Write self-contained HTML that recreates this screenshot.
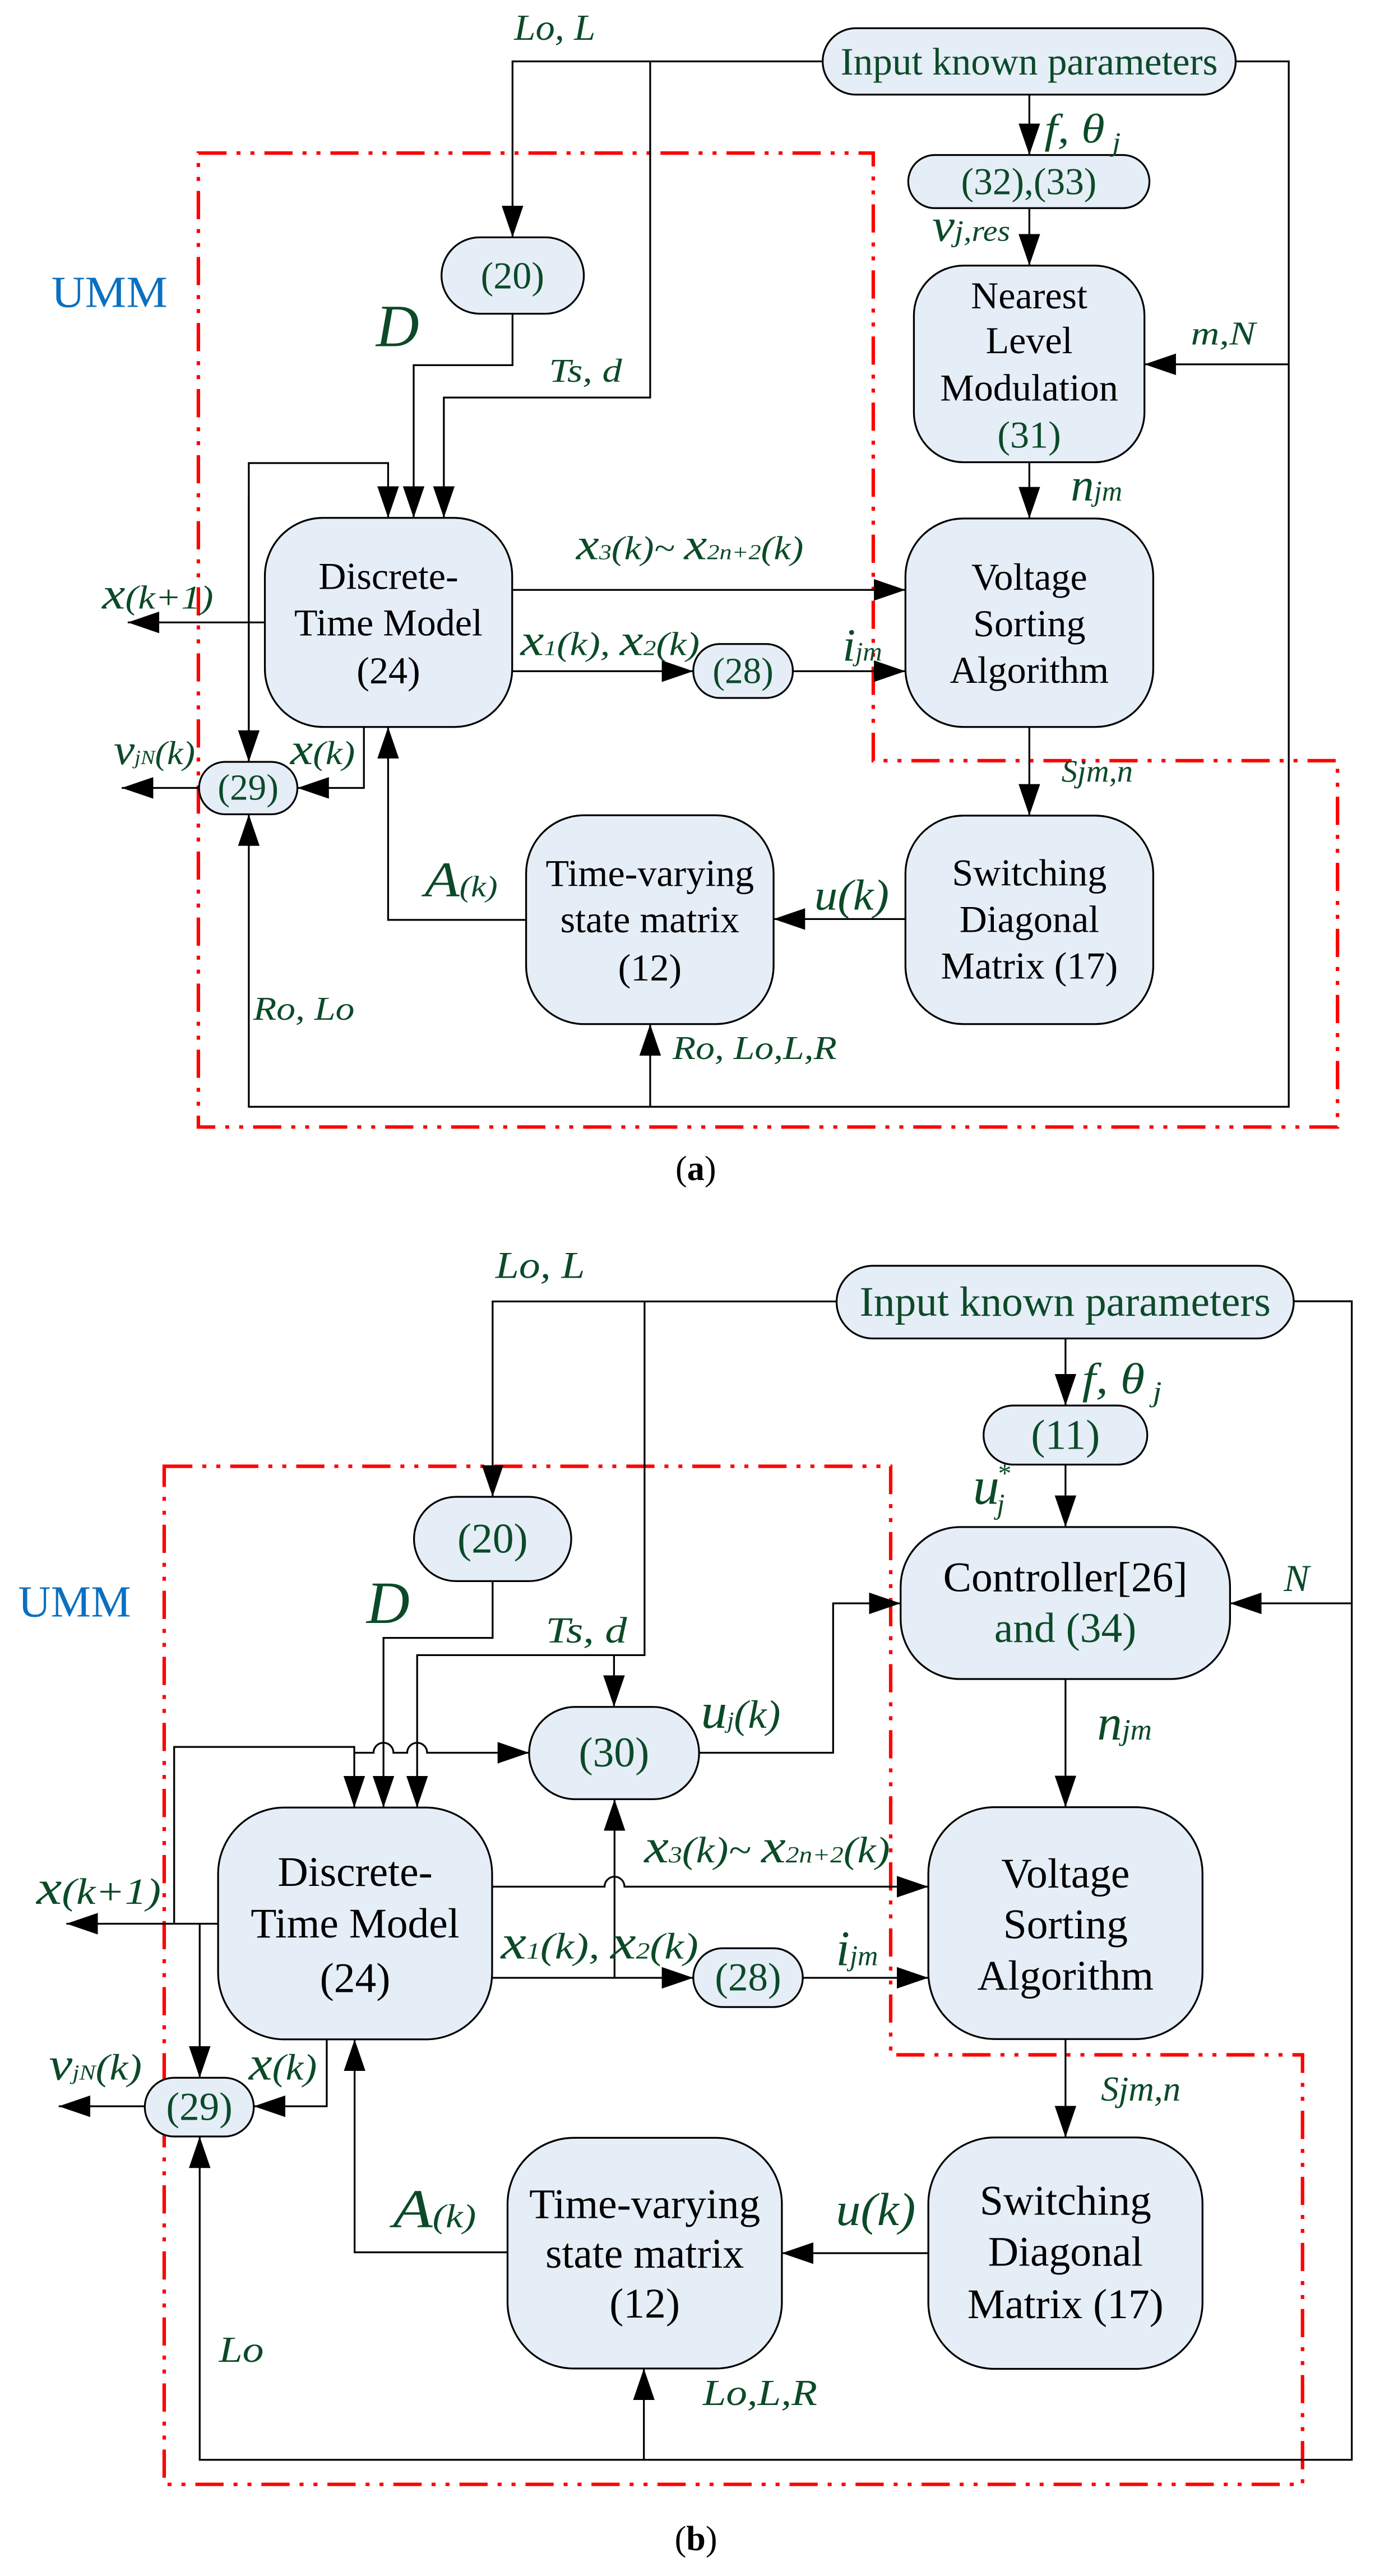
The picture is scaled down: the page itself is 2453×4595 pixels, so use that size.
<!DOCTYPE html>
<html><head><meta charset="utf-8"><style>
html,body{margin:0;padding:0;background:#fff}
svg{display:block}
.bx{fill:#e5edf7;stroke:#000;stroke-width:1.1}
.ln{fill:none;stroke:#000;stroke-width:1.1}
.red{fill:none;stroke:#ff0000;stroke-width:2.1;stroke-dasharray:17 6 2.4 6 2.4 6}
.t{font-family:"Liberation Serif",serif;fill:#000;text-anchor:middle;dominant-baseline:central}
.g{fill:#0b4a28}
.l{font-family:"Liberation Serif",serif;font-style:italic;fill:#0b4a28}
.s{font-family:"Liberation Serif",serif}
</style></head><body>
<svg width="2453" height="4595" viewBox="0 0 829 1552" preserveAspectRatio="none" xmlns="http://www.w3.org/2000/svg">
<defs>
<marker id="a" markerUnits="userSpaceOnUse" markerWidth="20" markerHeight="14" refX="19" refY="6.5" orient="auto"><path d="M0,0 L19,6.5 L0,13 z" fill="#000"/></marker>
</defs>

<!-- ================= PANEL A ================= -->
<path class="red" d="M119.6,92.2 H526.5 V458.3 H806.4 V679 H119.6 Z"/>
<g class="ln" marker-end="url(#a)">
<path d="M496,37 H309 V143"/>
<path d="M392,37 V239.5 H267.6 V312"/>
<path d="M309,189 V220 H249.4 V312"/>
<path d="M150,459 V279 H234 V312"/>
<path d="M150,300 V459"/>
<path d="M159.7,375 H77"/>
<path d="M308.8,355.4 H545.9"/>
<path d="M308.8,404.4 H418"/>
<path d="M478,404.4 H545.9"/>
<path d="M745,37 H777 V666.8 H150 V490.6"/>
<path d="M777,219.5 H690"/>
<path d="M392,666.8 V617"/>
<path d="M620.6,57 V93.4"/>
<path d="M620.6,125.4 V160"/>
<path d="M620.6,278.5 V312.4"/>
<path d="M620.6,438 V491.4"/>
<path d="M545.9,553.7 H466.4"/>
<path d="M317.2,554.2 H234 V438"/>
<path d="M219.4,438 V474.7 H179.3"/>
<path d="M120,474.7 H73.4"/>
</g>

<rect class="bx" x="496" y="17" width="249" height="40" rx="20"/>
<text class="t g" x="620.5" y="37" font-size="23.4">Input known parameters</text>
<rect class="bx" x="547.6" y="93.4" width="145.4" height="32" rx="16"/>
<text class="t g" x="620.3" y="109.5" font-size="22.8">(32),(33)</text>
<rect class="bx" x="551" y="160" width="139" height="118.5" rx="30"/>
<text class="t" x="620.5" y="178" font-size="23">Nearest</text>
<text class="t" x="620.5" y="205" font-size="23">Level</text>
<text class="t" x="620.5" y="233.6" font-size="23">Modulation</text>
<text class="t g" x="620.5" y="262" font-size="23">(31)</text>
<rect class="bx" x="266.2" y="143" width="85.8" height="46" rx="23"/>
<text class="t g" x="309" y="166" font-size="23">(20)</text>
<rect class="bx" x="159.7" y="312" width="149.1" height="126" rx="35"/>
<text class="t" x="234.2" y="347" font-size="23">Discrete-</text>
<text class="t" x="234.2" y="375" font-size="23">Time Model</text>
<text class="t" x="234.2" y="404" font-size="23">(24)</text>
<rect class="bx" x="545.9" y="312.4" width="149.4" height="125.6" rx="35"/>
<text class="t" x="620.6" y="347.5" font-size="23">Voltage</text>
<text class="t" x="620.6" y="375.6" font-size="23">Sorting</text>
<text class="t" x="620.6" y="403.6" font-size="23">Algorithm</text>
<rect class="bx" x="418" y="388" width="60" height="32.5" rx="16"/>
<text class="t g" x="448" y="404.5" font-size="22">(28)</text>
<rect class="bx" x="120" y="459" width="59.3" height="31.6" rx="15.8"/>
<text class="t g" x="149.6" y="474.7" font-size="22">(29)</text>
<rect class="bx" x="545.9" y="491.4" width="149.4" height="125.6" rx="35"/>
<text class="t" x="620.6" y="525.7" font-size="23">Switching</text>
<text class="t" x="620.6" y="553.7" font-size="23">Diagonal</text>
<text class="t" x="620.6" y="581.8" font-size="23">Matrix (17)</text>
<rect class="bx" x="317.2" y="491.2" width="149.2" height="125.8" rx="35"/>
<text class="t" x="391.8" y="526" font-size="23">Time-varying</text>
<text class="t" x="391.8" y="554" font-size="23">state matrix</text>
<text class="t" x="391.8" y="583" font-size="23">(12)</text>

<text class="s" x="31" y="185" font-size="27" fill="#0a70c0" textLength="70" lengthAdjust="spacingAndGlyphs">UMM</text>
<text class="l" x="310" y="24" font-size="22" textLength="49" lengthAdjust="spacingAndGlyphs">Lo, L</text>
<text class="l" x="629.7" y="86" font-size="25" textLength="46" lengthAdjust="spacingAndGlyphs">f,  θ<tspan font-size="16" dy="5"> j</tspan></text>
<text class="l" x="562" y="145" font-size="28" textLength="47" lengthAdjust="spacingAndGlyphs">v<tspan font-size="18">j,res</tspan></text>
<text class="l" x="226.7" y="208.6" font-size="36">D</text>
<text class="l" x="331" y="230" font-size="20" textLength="44" lengthAdjust="spacingAndGlyphs">Ts, d</text>
<text class="l" x="718" y="207.5" font-size="20" textLength="39" lengthAdjust="spacingAndGlyphs">m,N</text>
<text class="l" x="645.6" y="301.6" font-size="28">n<tspan font-size="17">jm</tspan></text>
<text class="l" x="347.4" y="337" font-size="20" textLength="137" lengthAdjust="spacingAndGlyphs"><tspan font-size="27">x</tspan><tspan font-size="13">3</tspan>(k)~ <tspan font-size="27">x</tspan><tspan font-size="13">2n+2</tspan>(k)</text>
<text class="l" x="313.8" y="394.6" font-size="20" textLength="108" lengthAdjust="spacingAndGlyphs"><tspan font-size="27">x</tspan><tspan font-size="13">1</tspan>(k), <tspan font-size="27">x</tspan><tspan font-size="13">2</tspan>(k)</text>
<text class="l" x="508" y="398" font-size="28">i<tspan font-size="16">jm</tspan></text>
<text class="l" x="61.6" y="366.6" font-size="20" textLength="67" lengthAdjust="spacingAndGlyphs"><tspan font-size="27">x</tspan>(k+1)</text>
<text class="l" x="68.6" y="460.4" font-size="20" textLength="49" lengthAdjust="spacingAndGlyphs"><tspan font-size="26">v</tspan><tspan font-size="12">jN</tspan>(k)</text>
<text class="l" x="175" y="460.4" font-size="20" textLength="39" lengthAdjust="spacingAndGlyphs"><tspan font-size="27">x</tspan>(k)</text>
<text class="l" x="256" y="540" font-size="18" textLength="44" lengthAdjust="spacingAndGlyphs"><tspan font-size="30">A</tspan>(k)</text>
<text class="l" x="152.7" y="614.4" font-size="20" textLength="61" lengthAdjust="spacingAndGlyphs">Ro, Lo</text>
<text class="l" x="640" y="471" font-size="19" textLength="43" lengthAdjust="spacingAndGlyphs">Sjm,n</text>
<text class="l" x="491" y="548" font-size="26" textLength="45" lengthAdjust="spacingAndGlyphs">u(k)</text>
<text class="l" x="405.5" y="638" font-size="20" textLength="99" lengthAdjust="spacingAndGlyphs">Ro, Lo,L,R</text>
<text class="s" x="419.5" y="711" font-size="21" text-anchor="middle">(<tspan font-weight="bold">a</tspan>)</text>

<!-- ================= PANEL B ================= -->
<path class="red" d="M99,883.4 H537 V1238 H785.3 V1496.8 H99 Z"/>
<g class="ln" marker-end="url(#a)">
<path d="M504,784.1 H297 V901.8"/>
<path d="M388.6,784.1 V997.2 H251.5 V1089"/>
<path d="M297,952.6 V986.8 H231.2 V1089"/>
<path d="M370.2,997.2 V1028.4"/>
<path d="M105,1159 V1052.5 H213.6 V1089"/>
<path d="M213.6,1056 H225.2 a6,6 0 0 1 12,0 H245.5 a6,6 0 0 1 12,0 H319"/>
<path d="M131.5,1159 H40"/>
<path d="M120.4,1159 V1251.8"/>
<path d="M296.7,1136.7 H364.5 a6,6 0 0 1 12,0 H559.7"/>
<path d="M296.7,1191.6 H418"/>
<path d="M484,1191.6 H559.7"/>
<path d="M370.5,1191.6 V1084"/>
<path d="M421.5,1056 H502.3 V966 H543"/>
<path d="M780,784 H815 V1482 H120.4 V1287.2"/>
<path d="M815,966 H741.6"/>
<path d="M388.2,1482 V1427"/>
<path d="M642.4,806.4 V846.8"/>
<path d="M642.4,882.4 V920"/>
<path d="M642.4,1011.6 V1088.8"/>
<path d="M642.4,1228.5 V1287.8"/>
<path d="M559.7,1357.5 H471.4"/>
<path d="M306,1357 H213.8 V1228.7"/>
<path d="M197,1228.7 V1269 H153"/>
<path d="M87.3,1269 H35.4"/>
</g>

<rect class="bx" x="504.4" y="762.6" width="275.6" height="43.8" rx="21.9"/>
<text class="t g" x="642.2" y="784.5" font-size="25.5">Input known parameters</text>
<rect class="bx" x="593" y="846.8" width="98.7" height="35.6" rx="17.8"/>
<text class="t g" x="642.4" y="864.6" font-size="25.5">(11)</text>
<rect class="bx" x="543" y="920" width="198.6" height="91.6" rx="36"/>
<text class="t" x="642.3" y="950.4" font-size="25.5">Controller[26]</text>
<text class="t g" x="642.3" y="981" font-size="25.5">and (34)</text>
<rect class="bx" x="249.6" y="901.8" width="94.8" height="50.8" rx="25.4"/>
<text class="t g" x="297" y="927.2" font-size="25.5">(20)</text>
<rect class="bx" x="319" y="1028.4" width="102.5" height="55.6" rx="27.8"/>
<text class="t g" x="370.2" y="1056" font-size="25.5">(30)</text>
<rect class="bx" x="131.5" y="1089" width="165.2" height="139.7" rx="40"/>
<text class="t" x="214.1" y="1128" font-size="25.5">Discrete-</text>
<text class="t" x="214.1" y="1159" font-size="25.5">Time Model</text>
<text class="t" x="214.1" y="1192" font-size="25.5">(24)</text>
<rect class="bx" x="559.7" y="1088.8" width="165.3" height="139.7" rx="40"/>
<text class="t" x="642.4" y="1129" font-size="25.5">Voltage</text>
<text class="t" x="642.4" y="1159.6" font-size="25.5">Sorting</text>
<text class="t" x="642.4" y="1190.4" font-size="25.5">Algorithm</text>
<rect class="bx" x="418" y="1173.8" width="66" height="35.4" rx="17.7"/>
<text class="t g" x="451" y="1191.5" font-size="24">(28)</text>
<rect class="bx" x="87.3" y="1251.8" width="65.7" height="35.4" rx="17.7"/>
<text class="t g" x="120.2" y="1269.5" font-size="24">(29)</text>
<rect class="bx" x="559.7" y="1287.8" width="165.3" height="139.4" rx="40"/>
<text class="t" x="642.4" y="1326" font-size="25.5">Switching</text>
<text class="t" x="642.4" y="1356.7" font-size="25.5">Diagonal</text>
<text class="t" x="642.4" y="1388.3" font-size="25.5">Matrix (17)</text>
<rect class="bx" x="306" y="1288" width="165.4" height="139" rx="40"/>
<text class="t" x="388.7" y="1328" font-size="25.5">Time-varying</text>
<text class="t" x="388.7" y="1358" font-size="25.5">state matrix</text>
<text class="t" x="388.7" y="1388" font-size="25.5">(12)</text>

<text class="s" x="11" y="974" font-size="27" fill="#0a70c0" textLength="68" lengthAdjust="spacingAndGlyphs">UMM</text>
<text class="l" x="298.7" y="770" font-size="23" textLength="54" lengthAdjust="spacingAndGlyphs">Lo, L</text>
<text class="l" x="652.4" y="839.3" font-size="26" textLength="48" lengthAdjust="spacingAndGlyphs">f,  θ<tspan font-size="17" dy="5"> j</tspan></text>
<text class="l" x="586.6" y="906" font-size="32">u</text>
<text class="l" x="601" y="893" font-size="16">*</text>
<text class="l" x="601" y="912" font-size="17">j</text>
<text class="l" x="774" y="958.5" font-size="23">N</text>
<text class="l" x="661.5" y="1048" font-size="30">n<tspan font-size="18">jm</tspan></text>
<text class="l" x="221" y="977.8" font-size="36">D</text>
<text class="l" x="329" y="989.6" font-size="22" textLength="49" lengthAdjust="spacingAndGlyphs">Ts, d</text>
<text class="l" x="422.6" y="1041" font-size="24" textLength="48" lengthAdjust="spacingAndGlyphs"><tspan font-size="30">u</tspan><tspan font-size="14">j</tspan>(k)</text>
<text class="l" x="388.5" y="1122" font-size="22" textLength="148" lengthAdjust="spacingAndGlyphs"><tspan font-size="29">x</tspan><tspan font-size="14">3</tspan>(k)~ <tspan font-size="29">x</tspan><tspan font-size="14">2n+2</tspan>(k)</text>
<text class="l" x="302" y="1180" font-size="22" textLength="119" lengthAdjust="spacingAndGlyphs"><tspan font-size="29">x</tspan><tspan font-size="14">1</tspan>(k), <tspan font-size="29">x</tspan><tspan font-size="14">2</tspan>(k)</text>
<text class="l" x="504" y="1184" font-size="30">i<tspan font-size="17">jm</tspan></text>
<text class="l" x="22" y="1147" font-size="22" textLength="75" lengthAdjust="spacingAndGlyphs"><tspan font-size="29">x</tspan>(k+1)</text>
<text class="l" x="29.5" y="1253" font-size="22" textLength="56" lengthAdjust="spacingAndGlyphs"><tspan font-size="28">v</tspan><tspan font-size="13">jN</tspan>(k)</text>
<text class="l" x="150" y="1253" font-size="22" textLength="41" lengthAdjust="spacingAndGlyphs"><tspan font-size="29">x</tspan>(k)</text>
<text class="l" x="237" y="1342" font-size="20" textLength="50" lengthAdjust="spacingAndGlyphs"><tspan font-size="33">A</tspan>(k)</text>
<text class="l" x="504" y="1340.6" font-size="28" textLength="48" lengthAdjust="spacingAndGlyphs">u(k)</text>
<text class="l" x="663.8" y="1265.5" font-size="21" textLength="48" lengthAdjust="spacingAndGlyphs">Sjm,n</text>
<text class="l" x="132" y="1423" font-size="22" textLength="27" lengthAdjust="spacingAndGlyphs">Lo</text>
<text class="l" x="423.7" y="1449" font-size="22" textLength="69" lengthAdjust="spacingAndGlyphs">Lo,L,R</text>
<text class="s" x="419.6" y="1536.4" font-size="21" text-anchor="middle">(<tspan font-weight="bold">b</tspan>)</text>
</svg>
</body></html>
